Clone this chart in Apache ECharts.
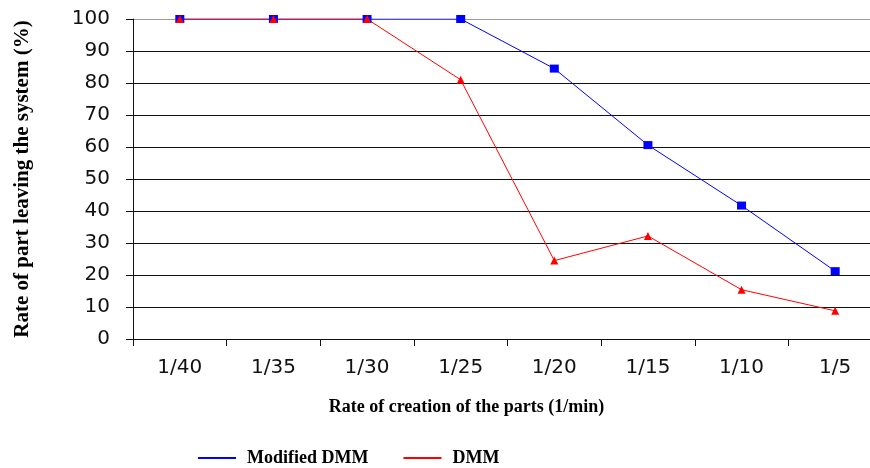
<!DOCTYPE html>
<html>
<head>
<meta charset="utf-8">
<script src="https://cdn.jsdelivr.net/npm/echarts@6/dist/echarts.min.js"></script>
<style>
	html, body { margin: 0; padding: 0; background: #fff; }
	#chart { width: 870px; height: 468px; }
</style>
</head>
<body>
<div id="chart"></div>
<script>
var categories = ["1/40", "1/35", "1/30", "1/25", "1/20", "1/15", "1/10", "1/5"];
var modifiedDmm = [100, 100, 100, 100, 84.5, 60.6, 41.7, 21.2];
var dmm = [100, 100, 100, 81, 24.5, 32.2, 15.4, 8.8];
var yTicks = [0, 100, 10]; // min, max, interval

//分隔线颜色: 顶部那条是灰色的
var splitColors = [];
for (var i = 0; i < 10; i++) {
	splitColors.push('#111');
}
splitColors.push('#9a9a9a');

var myChart = echarts.init(document.getElementById("chart"));
myChart.setOption({
	animation: false,
	backgroundColor: '#fff',
	grid: {
		left: 133,
		top: 19,
		width: 749,
		height: 320,
		containLabel: false,
		outerBoundsMode: 'none'
	},
	legend: {
		left: 198,
		top: 449,
		padding: 0,
		itemWidth: 38,
		itemHeight: 2,
		itemGap: 35,
		textStyle: {
			fontFamily: 'Liberation Serif',
			fontWeight: 'bold',
			fontSize: 18,
			color: '#000',
			padding: [0, 0, 0, 6]
		},
		data: [
			{name: 'Modified DMM', icon: 'rect'},
			{name: 'DMM', icon: 'rect'}
		]
	},
	xAxis: {
		type: 'category',
		boundaryGap: true,
		data: categories,
		name: 'Rate of creation of the parts (1/min)',
		nameLocation: 'middle',
		nameGap: 59,
		nameTextStyle: {
			fontFamily: 'Liberation Serif',
			fontWeight: 'bold',
			fontSize: 18,
			color: '#000',
			padding: [0, 82, 0, 0]
		},
		axisLine: {
			show: true,
			lineStyle: {color: '#111', width: 1}
		},
		axisTick: {
			show: true,
			alignWithLabel: false,
			length: 7,
			lineStyle: {color: '#111'}
		},
		axisLabel: {
			margin: 19,
			fontFamily: 'DejaVu Sans',
			fontSize: 20,
			color: '#111'
		},
		splitLine: {show: false}
	},
	yAxis: {
		type: 'value',
		min: yTicks[0],
		max: yTicks[1],
		interval: yTicks[2],
		name: 'Rate of part leaving the system (%)',
		nameLocation: 'middle',
		nameGap: 100,
		nameTextStyle: {
			fontFamily: 'Liberation Serif',
			fontWeight: 'bold',
			fontSize: 21,
			color: '#000'
		},
		axisLine: {
			show: true,
			lineStyle: {color: '#111', width: 1}
		},
		axisTick: {
			show: true,
			length: 7,
			lineStyle: {color: '#111'}
		},
		axisLabel: {
			margin: 23,
			fontFamily: 'DejaVu Sans',
			fontSize: 20,
			color: '#111'
		},
		splitLine: {
			show: true,
			lineStyle: {color: splitColors, width: 1}
		}
	},
	series: [
		{
			name: 'Modified DMM',
			type: 'line',
			data: modifiedDmm,
			symbol: 'rect',
			symbolSize: [9, 8],
			showAllSymbol: true,
			itemStyle: {color: '#0000ff'},
			lineStyle: {color: '#0000ff', width: 1}
		},
		{
			name: 'DMM',
			type: 'line',
			data: dmm,
			symbol: 'triangle',
			symbolSize: 8,
			showAllSymbol: true,
			itemStyle: {color: '#ff0000'},
			lineStyle: {color: '#ff0000', width: 1}
		}
	]
});
</script>
</body>
</html>
